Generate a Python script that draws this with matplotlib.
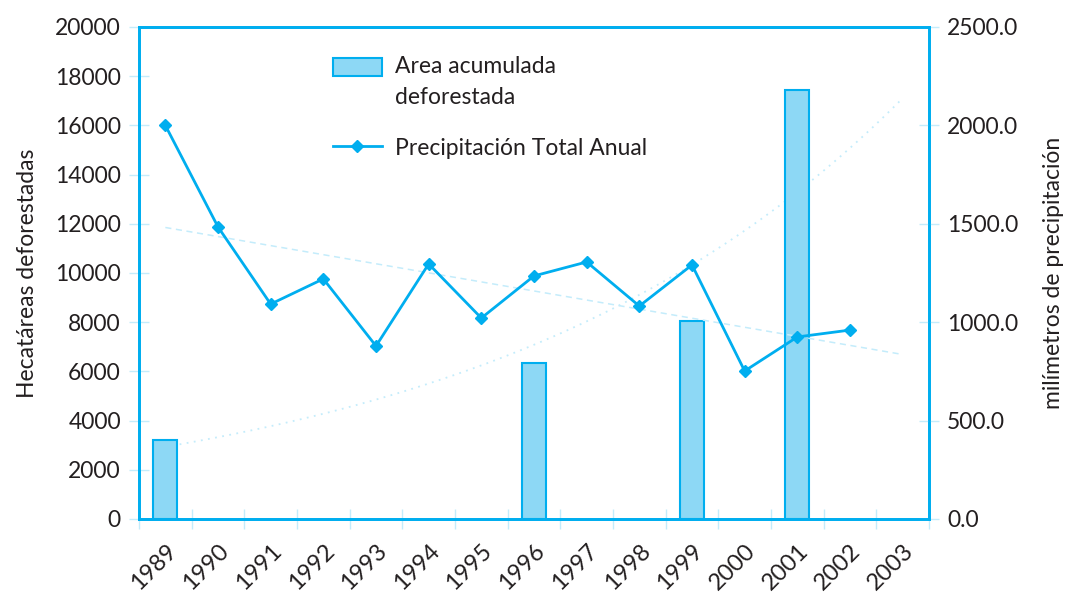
import numpy as np
import matplotlib
matplotlib.use("Agg")
import matplotlib.pyplot as plt
from matplotlib.ticker import FixedLocator

plt.rcParams['font.family'] = ['Lato', 'DejaVu Sans']

years = ['1989', '1990', '1991', '1992', '1993', '1994', '1995', '1996',
         '1997', '1998', '1999', '2000', '2001', '2002', '2003']
# precipitacion total anual (mm), no hay dato para 2003
precip = [2000, 1484, 1092, 1220, 879, 1296, 1021, 1235, 1306, 1082, 1291, 752, 925, 960]
# area acumulada deforestada (ha), solo los años con dato
area_years = ['1989', '1996', '1999', '2001']
area = [3200, 6350, 8050, 17450]

cyan = '#00AEEF'
bar_fill = '#8DD8F5'
pale = '#C4ECFB'
txt = '#231F20'
fs = 16.5

fig = plt.figure(figsize=(10.71, 5.93), dpi=100)
ax = fig.add_axes([0.1298, 0.1248, 0.7376, 0.8297])
ax2 = ax.twinx()

x_all = np.arange(len(years))
x_area = np.array([years.index(y) for y in area_years])
x_prec = np.arange(len(precip))

ax.bar(x_area, area, width=0.46, color=bar_fill, edgecolor=cyan, linewidth=1.5,
       label='Area acumulada\ndeforestada', zorder=2)

# tendencia exponencial del area
b, lna = np.polyfit(x_area, np.log(area), 1)
xt = np.linspace(0, len(years) - 1, 100)
ax.plot(xt, np.exp(lna + b * xt), linestyle=(0, (1, 3)), color=pale, linewidth=1.3, zorder=1)

ax2.plot(x_prec, precip, color=cyan, linewidth=2, marker='D', markersize=6,
         label='Precipitación Total Anual', zorder=3)
# tendencia lineal de la precipitacion
m, c = np.polyfit(x_prec, precip, 1)
ax2.plot(xt, m * xt + c, linestyle=(0, (4, 3)), color=pale, linewidth=1.1, zorder=1)

ax.set_xlim(-0.5, len(years) - 0.5)
ax.set_ylim(0, 20000)
ax2.set_ylim(0, 2500)
ax.set_yticks(np.arange(0, 20001, 2000))
ax2.set_yticks(np.arange(0, 2501, 500))
ax2.set_yticklabels([f'{v:.1f}' for v in np.arange(0, 2501, 500)])

ax.set_xticks(x_all)
ax.set_xticklabels(years, rotation=45, ha='right', rotation_mode='anchor')
ax.xaxis.set_minor_locator(FixedLocator(np.arange(-0.5, len(years), 1)))
ax.tick_params(axis='x', which='major', length=0, pad=15, labelsize=17, labelcolor=txt)
ax.tick_params(axis='x', which='minor', direction='inout', length=14, color=pale, width=1)
ax.tick_params(axis='y', direction='inout', length=14, color=pale, width=1, labelsize=fs,
               labelcolor=txt, pad=6)
ax2.tick_params(axis='y', direction='inout', length=14, color=pale, width=1, labelsize=fs,
                labelcolor=txt, pad=6)

for a in (ax, ax2):
    for s in a.spines.values():
        s.set_color(cyan)
        s.set_linewidth(2)

ax.set_ylabel('Hecatáreas deforestadas', fontsize=fs, color=txt, labelpad=12)
ax2.set_ylabel('milímetros de precipitación', fontsize=fs, color=txt, labelpad=18)

h1, l1 = ax.get_legend_handles_labels()
h2, l2 = ax2.get_legend_handles_labels()
leg = ax2.legend(h1 + h2, l1 + l2, loc='upper left', bbox_to_anchor=(0.22, 0.982),
                 frameon=False, fontsize=fs, handlelength=2.1, handleheight=0.85,
                 handletextpad=0.6, labelspacing=1.3, labelcolor=txt)
for t in leg.get_texts():
    t.set_linespacing(1.55)
# la caja del area va a la altura de la primera linea del texto
box = leg.legend_handles[0]
box.set_y(box.get_y() + 11.5)

fig.savefig('out.png', dpi=100)
